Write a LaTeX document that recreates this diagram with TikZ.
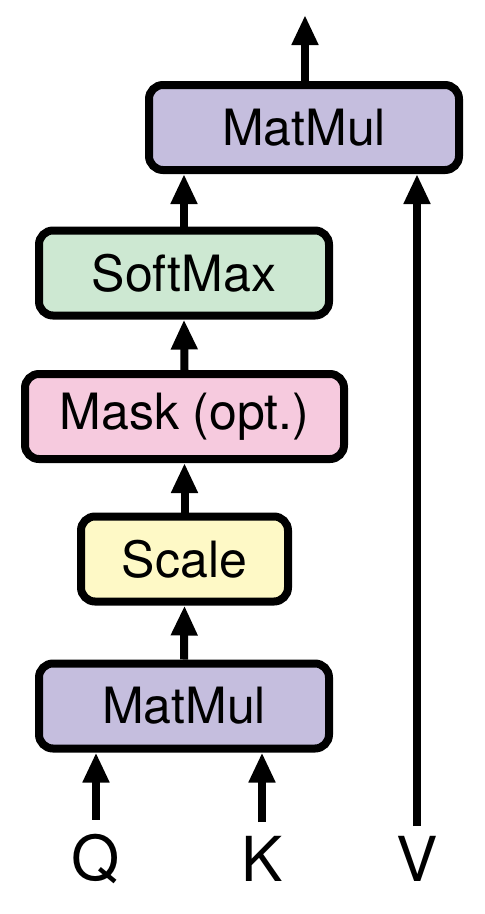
\documentclass[tikz,border=0pt]{standalone}
\usepackage{fontspec}
\setmainfont{TeX Gyre Heros}
\usepackage{xcolor}
\definecolor{boxpurple}{RGB}{197,190,222}
\definecolor{boxgreen}{RGB}{205,232,210}
\definecolor{boxpink}{RGB}{246,202,222}
\definecolor{boxyellow}{RGB}{254,249,198}
\usepackage{tikz}
\usetikzlibrary{arrows.meta, positioning, calc}

\begin{document}
\begin{tikzpicture}[
    x=1pt, y=-1pt,
    opbox/.style={rectangle, draw=black, line width=8pt, rounded corners=14pt,
                  minimum height=85pt, inner sep=0pt,
                  font=\fontsize{50}{60}\selectfont},
    inlabel/.style={inner sep=0pt, font=\fontsize{62}{72}\selectfont},
    arr/.style={draw, line width=8pt, -{Triangle[length=30pt, width=25pt]}}
]
\useasboundingbox (0,0) rectangle (485,914);

% operation boxes
\node[opbox, fill=boxpurple, minimum width=290pt] (matmulB) at (184,706) {MatMul};
\node[opbox, fill=boxyellow, minimum width=207pt] (scale) at (184.5,559) {Scale};
\node[opbox, fill=boxpink, minimum width=319pt] (mask) at (184.5,416.5) {Mask (opt.)};
\node[opbox, fill=boxgreen, minimum width=290pt] (softmax) at (184,273) {SoftMax};
\node[opbox, fill=boxpurple, minimum width=310pt] (matmulT) at (304,127.5) {MatMul};

% inputs
\node[inlabel] (Q) at (96,859) {Q};
\node[inlabel] (K) at (262,859) {K};
\node[inlabel] (V) at (417,859) {V};
\coordinate (out) at (305,15);

% connectors
\draw[arr, shorten <=14pt] (Q) -- (Q |- matmulB.south);
\draw[arr, shorten <=14pt] (K) -- (K |- matmulB.south);
\draw[arr, shorten <=10pt] (V) -- (V |- matmulT.south);
\draw[arr] (matmulB.north) -- (scale.south);
\draw[arr] (scale.north) -- (mask.south);
\draw[arr] (mask.north) -- (softmax.south);
\draw[arr] (softmax.north) -- (softmax.north |- matmulT.south);
\draw[arr] (matmulT.north -| out) -- (out);
\end{tikzpicture}
\end{document}
